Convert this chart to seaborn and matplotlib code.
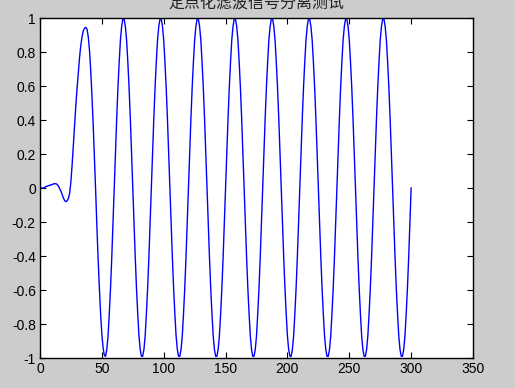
import matplotlib
matplotlib.use("Agg")
import matplotlib.pyplot as plt
import matplotlib.ticker as mticker
import seaborn as sns
import pandas as pd

# ---- data (sample index 0..300) ----
start_values = [
    0.00, 0.00, 0.00, 0.00, 0.005, 0.01, 0.01, 0.015, 0.015, 0.02,
    0.02, 0.025, 0.025, 0.025, 0.02, 0.01, -0.005, -0.02, -0.04, -0.06,
    -0.075, -0.08, -0.075, -0.06, -0.03, 0.04, 0.14, 0.26, 0.38, 0.49,
    0.59, 0.68, 0.77, 0.84, 0.89, 0.925, 0.94, 0.945, 0.935, 0.89,
    0.81, 0.69, 0.54, 0.37, 0.18, -0.02, -0.23, -0.42, -0.59, -0.74,
    -0.86, -0.94, -0.985,
]
steady_values = [
    -0.99, -0.95, -0.87, -0.74, -0.59, -0.41, -0.21, 0.00, 0.21, 0.41,
    0.59, 0.74, 0.87, 0.95, 0.995, 0.995, 0.95, 0.87, 0.74, 0.59,
    0.41, 0.21, 0.00, -0.21, -0.41, -0.59, -0.74, -0.87, -0.95, -0.99,
    -0.99, -0.95, -0.87, -0.74, -0.59, -0.41, -0.21, 0.00, 0.21, 0.41,
    0.59, 0.74, 0.87, 0.95, 0.995, 0.995, 0.95, 0.87, 0.74, 0.59,
    0.41, 0.21, 0.00, -0.21, -0.41, -0.59, -0.74, -0.87, -0.95, -0.99,
    -0.99, -0.95, -0.87, -0.74, -0.59, -0.41, -0.21, 0.00, 0.21, 0.41,
    0.59, 0.74, 0.87, 0.95, 0.995, 0.995, 0.95, 0.87, 0.74, 0.59,
    0.41, 0.21, 0.00, -0.21, -0.41, -0.59, -0.74, -0.87, -0.95, -0.99,
    -0.99, -0.95, -0.87, -0.74, -0.59, -0.41, -0.21, 0.00, 0.21, 0.41,
    0.59, 0.74, 0.87, 0.95, 0.995, 0.995, 0.95, 0.87, 0.74, 0.59,
    0.41, 0.21, 0.00, -0.21, -0.41, -0.59, -0.74, -0.87, -0.95, -0.99,
    -0.99, -0.95, -0.87, -0.74, -0.59, -0.41, -0.21, 0.00, 0.21, 0.41,
    0.59, 0.74, 0.87, 0.95, 0.995, 0.995, 0.95, 0.87, 0.74, 0.59,
    0.41, 0.21, 0.00, -0.21, -0.41, -0.59, -0.74, -0.87, -0.95, -0.99,
    -0.99, -0.95, -0.87, -0.74, -0.59, -0.41, -0.21, 0.00, 0.21, 0.41,
    0.59, 0.74, 0.87, 0.95, 0.995, 0.995, 0.95, 0.87, 0.74, 0.59,
    0.41, 0.21, 0.00, -0.21, -0.41, -0.59, -0.74, -0.87, -0.95, -0.99,
    -0.99, -0.95, -0.87, -0.74, -0.59, -0.41, -0.21, 0.00, 0.21, 0.41,
    0.59, 0.74, 0.87, 0.95, 0.995, 0.995, 0.95, 0.87, 0.74, 0.59,
    0.41, 0.21, 0.00, -0.21, -0.41, -0.59, -0.74, -0.87, -0.95, -0.99,
    -0.99, -0.95, -0.87, -0.74, -0.59, -0.41, -0.21, 0.00, 0.21, 0.41,
    0.59, 0.74, 0.87, 0.95, 0.995, 0.995, 0.95, 0.87, 0.74, 0.59,
    0.41, 0.21, 0.00, -0.21, -0.41, -0.59, -0.74, -0.87, -0.95, -0.99,
    -0.99, -0.95, -0.87, -0.74, -0.59, -0.41, -0.21, 0.00,
]
x_ticks = [0, 50, 100, 150, 200, 250, 300, 350]
y_ticks = [-1, -0.8, -0.6, -0.4, -0.2, 0, 0.2, 0.4, 0.6, 0.8, 1]
title_text = "定点化滤波信号分离测试"

signal = start_values + steady_values
sample = list(range(len(signal)))
df = pd.DataFrame({"n": sample, "y": signal})

plt.rcParams["axes.unicode_minus"] = False
plt.rcParams["font.family"] = ["Liberation Sans", "DejaVu Sans"]

fig = plt.figure(figsize=(5.15, 3.88), dpi=100, facecolor="#cccccc")
ax = fig.add_axes([40 / 515, 30 / 388, 433 / 515, 340 / 388])
ax.set_facecolor("white")

sns.lineplot(data=df, x="n", y="y", ax=ax, color="#0000ff", linewidth=1.0,
             estimator=None, sort=False)

ax.set_xlim(0, 350)
ax.set_ylim(-1, 1)
ax.set_xticks(x_ticks)
ax.set_yticks(y_ticks)
ax.yaxis.set_major_formatter(mticker.FuncFormatter(lambda v, p: f"{v:g}"))
ax.set_xlabel("")
ax.set_ylabel("")
ax.tick_params(direction="in", length=4, width=0.8, top=True, right=True,
               labelsize=10, pad=3, colors="black")
for s in ax.spines.values():
    s.set_linewidth(1.0)
    s.set_color("black")

ax.set_title(title_text, fontsize=11.5, pad=6.5,
             family=["Noto Sans CJK SC", "DejaVu Sans"], color="#222222")

fig.savefig("out.png", dpi=100, facecolor=fig.get_facecolor())
